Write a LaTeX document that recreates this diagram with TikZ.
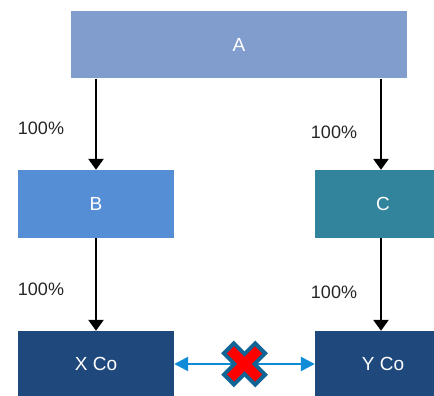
\documentclass[tikz,border=0pt]{standalone}
\usepackage{fontspec}
\setmainfont{Liberation Sans}
\usetikzlibrary{arrows.meta}

\definecolor{topblue}{RGB}{128,157,205}
\definecolor{midblue}{RGB}{85,142,213}
\definecolor{tealbox}{RGB}{49,132,155}
\definecolor{darkblue}{RGB}{31,73,125}
\definecolor{linkblue}{RGB}{14,140,215}
\definecolor{crossedge}{RGB}{16,100,150}

\tikzset{
    box/.style={draw=none, text=white, inner sep=0pt, font=\fontsize{19}{22}\selectfont},
    pct/.style={text=black!85, inner sep=0pt, font=\fontsize{18}{21}\selectfont},
    owns/.style={-{Triangle[width=15pt, length=11pt]}, line width=2.8pt},
}

\begin{document}
\begin{tikzpicture}[x=1pt, y=1pt]
    \useasboundingbox (0, 0) rectangle (434, 396);

    \node[box, fill=topblue, minimum width=336pt, minimum height=67pt] (A) at (239, 351) {A};
    \node[box, fill=midblue, minimum width=156pt, minimum height=68pt] (B) at (96, 192) {B};
    \node[box, fill=tealbox, minimum width=136pt, minimum height=68pt] (C) at (383, 192) {C};
    \node[box, fill=darkblue, minimum width=156pt, minimum height=66pt] (X) at (96, 32) {X Co};
    \node[box, fill=darkblue, minimum width=136pt, minimum height=66pt] (Y) at (383, 32) {Y Co};

    \node[pct] (Blabel) at (41, 268) {100\%};
    \node[pct] (Clabel) at (334, 264) {100\%};
    \node[pct] (Xlabel) at (41, 107) {100\%};
    \node[pct] (Ylabel) at (334, 104) {100\%};

    % A to B and C
    \draw[owns] (A.south -| 96, 0) -- (B.north -| 96, 0);
    \draw[owns] (A.south -| 381, 0) -- (C.north -| 381, 0);
    % B to X Co, C to Y Co
    \draw[owns] (B.south -| 96, 0) -- (X.north -| 96, 0);
    \draw[owns] (C.south -| 381, 0) -- (Y.north -| 381, 0);

    % no link between X Co and Y Co
    \draw[{Triangle[width=14pt, length=14pt]}-{Triangle[width=14pt, length=14pt]}, linkblue, line width=2.6pt] (X.east) -- (Y.west) coordinate[pos=0.5] (cross);
    \draw[crossedge, line width=18pt] ([shift={(-17, -17)}]cross) -- ([shift={(17, 17)}]cross);
    \draw[crossedge, line width=18pt] ([shift={(-17, 17)}]cross) -- ([shift={(17, -17)}]cross);
    \draw[red, line width=10pt] ([shift={(-14, -14)}]cross) -- ([shift={(14, 14)}]cross);
    \draw[red, line width=10pt] ([shift={(-14, 14)}]cross) -- ([shift={(14, -14)}]cross);
\end{tikzpicture}
\end{document}
